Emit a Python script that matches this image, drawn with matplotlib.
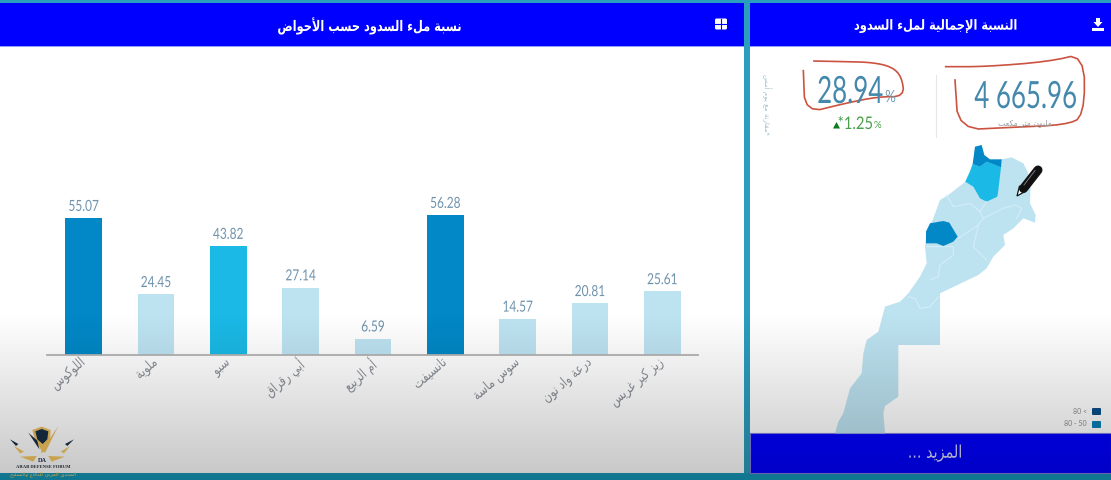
import unicodedata
import numpy as np
import matplotlib
matplotlib.use("Agg")
import matplotlib.pyplot as plt
from matplotlib.patches import Polygon, Rectangle, FancyBboxPatch
from matplotlib.patheffects import AbstractPathEffect
from matplotlib.transforms import Affine2D, ScaledTranslation

# ---------- data ----------
basins = ["اللوكوس", "ملوية", "سبو", "أبي رقراق", "أم الربيع", "تانسيفت", "سوس ماسة", "درعة واد نون", "زيز كير غريس"]
fill_rates = [55.07, 24.45, 43.82, 27.14, 6.59, 56.28, 14.57, 20.81, 25.61]
bar_colors = ["#0288c6", "#bde3f1", "#1ab9e6", "#bde3f1", "#bde3f1", "#0288c6", "#bde3f1", "#bde3f1", "#bde3f1"]
title_left = "نسبة ملء السدود حسب الأحواض"
title_right = "النسبة الإجمالية لملء السدود"
more_label = "المزيد ..."
unit_label = "مليون متر مكعب"
note_label = "*مقارنة مع يوم أمس"
forum_label = "المنتدى العربي للدفاع والتسليح"
kpi_volume = "4 665.96"
kpi_rate = "28.94"
kpi_delta = "*1.25"
legend_labels = ["80 <", "80 - 50"]
legend_colors = ["#0b4f8a", "#0a7fb5"]

# map outlines (pixels)
def z5(pts):
    return [(890 + x / 3, 140 + y / 3) for x, y in pts]
def z6(pts):
    return [(820 + x / 3, 280 + y / 3) for x, y in pts]

map_outline = z5([(226, 125), (175, 165), (150, 180), (128, 240), (110, 270), (105, 320), (110, 370), (90, 410), (62, 450)]) + \
    z6([(265, 40), (240, 65), (195, 80), (175, 155), (140, 180), (130, 220), (125, 280), (90, 325), (70, 400), (55, 425), (45, 460),
        (195, 460), (190, 400), (195, 378), (235, 350), (235, 195), (360, 195), (360, 40)]) + \
    z5([(265, 405), (290, 385), (310, 350), (345, 315), (340, 285), (370, 265), (400, 235), (435, 248), (437, 225), (420, 190),
        (422, 130), (415, 100), (400, 70), (365, 52), (335, 58), (290, 65), (248, 72)])
map_loukkos = z5([(248, 72), (255, 20), (275, 15), (283, 45), (300, 58), (335, 58), (333, 82), (290, 65), (270, 80)])
map_sebou = z5([(248, 72), (270, 80), (290, 65), (333, 82), (325, 150), (322, 170), (290, 185), (270, 175), (250, 140), (226, 125), (240, 95)])
map_tensift = z5([(108, 275), (120, 250), (160, 243), (178, 248), (203, 290), (190, 305), (160, 318), (140, 310), (108, 310)])
map_borders = [
    z5([(170, 165), (190, 200), (240, 190), (270, 215), (290, 185)]),
    z5([(270, 215), (280, 235), (340, 205), (375, 195), (395, 205), (380, 235)]),
    z5([(280, 235), (265, 255), (205, 295)]),
    z5([(265, 255), (250, 320), (290, 360)]),
    z5([(110, 320), (190, 320), (190, 345), (150, 375), (145, 410), (120, 420)]),
    z6([(265, 50), (285, 55), (300, 85), (330, 80), (355, 50)]),
]
red_left = [(175, 212), (180, 340), (300, 310), (400, 290), (478, 290), (470, 230), (440, 200), (380, 187), (300, 185), (207, 183)]
red_right = [(602, 200), (720, 200), (910, 185), (1018, 160), (1018, 350), (960, 375), (800, 382), (640, 390), (630, 240)]


# ---------- Arabic shaping (matplotlib has no shaper) ----------
LAM_ALEF = {"ا": ("\ufefb", "\ufefc"), "أ": ("\ufef7", "\ufef8"), "إ": ("\ufef9", "\ufefa"), "آ": ("\ufef5", "\ufef6")}

def form(ch, kind):
    try:
        return unicodedata.lookup(unicodedata.name(ch) + " " + kind + " FORM")
    except (KeyError, ValueError):
        return None

def is_ar(ch):
    return "\u0621" <= ch <= "\u064a"

def ar(text):
    out = []
    i = 0
    n = len(text)
    prev_joins = False
    while i < n:
        ch = text[i]
        if not is_ar(ch):
            out.append(ch)
            prev_joins = False
            i += 1
            continue
        if ch == "ل" and i + 1 < n and text[i + 1] in LAM_ALEF:
            out.append(LAM_ALEF[text[i + 1]][1 if prev_joins else 0])
            prev_joins = False
            i += 2
            continue
        nxt = text[i + 1] if i + 1 < n else ""
        next_takes = bool(nxt) and is_ar(nxt) and form(nxt, "FINAL") is not None
        can_prev = prev_joins and form(ch, "FINAL") is not None
        can_next = form(ch, "INITIAL") is not None and next_takes
        if can_prev and can_next:
            g = form(ch, "MEDIAL")
        elif can_prev:
            g = form(ch, "FINAL")
        elif can_next:
            g = form(ch, "INITIAL")
        else:
            g = form(ch, "ISOLATED") or ch
        out.append(g)
        prev_joins = form(ch, "INITIAL") is not None
        i += 1
    return "".join(out)[::-1]


class Squeeze(AbstractPathEffect):
    """Draw text narrower along its own baseline, keeping its height."""
    def __init__(self, sx, anchor=0.5):
        super().__init__()
        self.sx = sx
        self.anchor = anchor

    def draw_path(self, renderer, gc, tpath, affine, rgbFace=None):
        ext = tpath.get_extents()
        c = ext.x0 + self.anchor * ext.width
        local = Affine2D().translate(-c, 0).scale(self.sx, 1).translate(c, 0)
        renderer.draw_path(gc, tpath, local + affine, rgbFace)


def squeeze(sx, anchor=0.5):
    return [Squeeze(sx, anchor)]


def chaikin(pts, rounds=2):
    p = np.array(pts, float)
    for _ in range(rounds):
        q = 0.75 * p[:-1] + 0.25 * p[1:]
        r = 0.25 * p[:-1] + 0.75 * p[1:]
        mid = np.empty((2 * len(q), 2))
        mid[0::2] = q
        mid[1::2] = r
        p = np.vstack([p[0], mid, p[-1]])
    return p


AR = "DejaVu Sans"
NUM = "Lato"
W, H = 1111, 480
fig = plt.figure(figsize=(W / 100, H / 100), dpi=100, facecolor="white")

# pixel-space layer for the dashboard frame
bg = fig.add_axes([0, 0, 1, 1], zorder=0)
bg.set_xlim(0, W)
bg.set_ylim(H, 0)
bg.axis("off")
TEAL = "#2b9dbd"
bg.add_patch(Rectangle((0, 0), W, 3, color=TEAL, lw=0))
bg.add_patch(Rectangle((744, 0), 6, H, color=TEAL, lw=0))
bg.add_patch(Rectangle((0, 473), W, 7, color="#1798b8", lw=0))
bg.add_patch(Rectangle((0, 3), 744, 43, color="#0000ff", lw=0))
bg.add_patch(Rectangle((750, 3), W - 750, 43, color="#0000ff", lw=0))
bg.add_patch(Rectangle((0, 46), 744, 1, color="#8f9cf5", lw=0))
bg.add_patch(Rectangle((750, 46), W - 750, 1, color="#8f9cf5", lw=0))
bg.add_patch(Rectangle((750, 433), W - 750, 40, color="#0000ff", ec="#7f7fe0", lw=0.8))

bg.text(370, 26, ar(title_left), color="white", fontsize=10.5, fontweight="bold", family=AR, ha="center", va="center",
        path_effects=squeeze(0.78))
bg.text(936, 26, ar(title_right), color="white", fontsize=10, fontweight="bold", family=AR, ha="center", va="center",
        path_effects=squeeze(0.82))
bg.text(935, 453, ar(more_label), color="#dcdcff", fontsize=12.5, family=AR, ha="center", va="center",
        path_effects=squeeze(0.83))

# header icons
bg.add_patch(FancyBboxPatch((715, 18.5), 12, 11, boxstyle="round,pad=0,rounding_size=1.5", fc="white", ec="none"))
bg.plot([721, 721], [18.5, 29.5], color="#0000ff", lw=0.8)
bg.plot([715, 727], [24, 24], color="#0000ff", lw=0.8)
bg.add_patch(Polygon([(1096, 18), (1100, 18), (1100, 22), (1102.5, 22), (1098, 27), (1093.5, 22), (1096, 22)], fc="white", ec="none"))
bg.add_patch(Rectangle((1092, 27.5), 12, 3.5, fc="white", ec="none"))

# KPIs
KPI_BLUE = "#4489ac"
bg.text(1078, 97, kpi_volume, color=KPI_BLUE, fontsize=27, family=NUM, ha="right", va="center", path_effects=squeeze(0.69, 1.0))
bg.text(884, 92, kpi_rate, color=KPI_BLUE, fontsize=27, family=NUM, ha="right", va="center", path_effects=squeeze(0.69, 1.0))
bg.text(885, 97, "%", color="#6f9db5", fontsize=12, family=NUM, ha="left", va="center", path_effects=squeeze(0.8, 0))
bg.text(1025, 122.5, ar(unit_label), color="#9a9a9a", fontsize=5.6, family=AR, ha="center", va="center")
bg.plot([936, 936], [75, 137], color="#e4e8ea", lw=0.8)
bg.add_patch(Polygon([(833, 128.5), (836.5, 122), (840, 128.5)], fc="#0b7d1a", ec="none"))
bg.text(873, 124, kpi_delta, color="#4aa04a", fontsize=12.5, ha="right", va="center", family=NUM, path_effects=squeeze(0.85, 1.0))
bg.text(874, 125.5, "%", color="#4aa04a", fontsize=7, ha="left", va="center", family=NUM)
bg.text(767, 104, ar(note_label), color="#9fc0d2", fontsize=5, family=AR, rotation=-90, ha="center", va="center")

# map
MAP_LIGHT = "#bde3f1"
bg.add_patch(Polygon(map_outline, fc=MAP_LIGHT, ec="none"))
bg.add_patch(Polygon(map_sebou, fc="#1ab9e6", ec="none"))
bg.add_patch(Polygon(map_loukkos, fc="#0288c6", ec="none"))
bg.add_patch(Polygon(map_tensift, fc="#0288c6", ec="none"))
for line in map_borders:
    xs, ys = zip(*line)
    bg.plot(xs, ys, color="#d6eef7", lw=0.7)

# pencil
bg.plot([1038, 1023.5], [170, 188.5], color="#111111", lw=6.5, solid_capstyle="round")
bg.plot([1035, 1024], [170.5, 185], color="#7a7a7a", lw=0.7)
bg.add_patch(Polygon([(1017, 196), (1019.5, 186), (1026, 191)], fc="white", ec="#111111", lw=0.9))

# hand-drawn red marks
for pts in (red_left, red_right):
    s = chaikin([(745 + x / 3, y / 3) for x, y in pts])
    bg.plot(s[:, 0], s[:, 1], color="#cb5340", lw=1.2, solid_joinstyle="round")

# legend
for y, col, lab in zip((411.5, 424.5), legend_colors, legend_labels):
    bg.add_patch(FancyBboxPatch((1092, y - 3.5), 9, 7, boxstyle="round,pad=0,rounding_size=1", fc=col, ec="none"))
    bg.text(1087, y - 0.5, lab, color="#8c8c8c", fontsize=5, family=NUM, ha="right", va="center")

# ---------- bar chart ----------
ax = fig.add_axes([47.5 / W, 1 - 355 / H, 651 / W, 149.2 / H], zorder=1)
ax.patch.set_alpha(0)
x = np.arange(len(basins))
bars = ax.bar(x, fill_rates, width=0.51, color=bar_colors)
ax.set_xlim(-0.5, len(basins) - 0.5)
ax.set_ylim(0, 60)
ax.yaxis.set_visible(False)
for s in ("top", "left", "right"):
    ax.spines[s].set_visible(False)
ax.spines["bottom"].set_color("#b4b4b4")
ax.spines["bottom"].set_linewidth(1.3)
ax.set_xticks(x)
ax.set_xticklabels([ar(b) for b in basins], rotation=41, ha="right", va="top", rotation_mode="anchor",
                   family=AR, fontsize=10, color="#8d9299")
ax.tick_params(axis="x", length=0, pad=0)
shift = ScaledTranslation(-5 / 100, 0, fig.dpi_scale_trans)
for lab in ax.get_xticklabels():
    lab.set_path_effects(squeeze(0.8, 1.0))
    lab.set_transform(lab.get_transform() + shift)
ax.bar_label(bars, labels=[f"{v:.2f}" for v in fill_rates], padding=3, fontsize=11,
             color="#6f93ad", family=NUM, path_effects=squeeze(0.78))

# ---------- grey fade over the lower part of the whole screen ----------
ov = fig.add_axes([0, 0, 1, 1], zorder=5)
ov.set_xlim(0, W)
ov.set_ylim(H, 0)
ov.axis("off")
alpha = np.clip((np.arange(H) - 312) / (475 - 312), 0, 1) * 0.22
rgba = np.zeros((H, 1, 4))
rgba[:, 0, 3] = alpha
ov.imshow(rgba, extent=(0, W, H, 0), aspect="auto", interpolation="bilinear")

# ---------- forum logo ----------
lg = fig.add_axes([0, 0, 1, 1], zorder=6)
lg.set_xlim(0, W)
lg.set_ylim(H, 0)
lg.axis("off")
def z4(pts):
    return [(x / 3, 420 + y / 3) for x, y in pts]
GOLD = "#c9a24f"
DARK = "#14263a"
lg.add_patch(Polygon(z4([(97, 30), (125, 20), (152, 30), (150, 62), (128, 97), (106, 62)]), fc=GOLD, ec="none"))
lg.add_patch(Polygon(z4([(106, 34), (125, 27), (145, 34), (142, 58), (128, 72), (112, 58)]), fc=DARK, ec="none"))
lg.add_patch(Polygon(z4([(122, 97), (175, 18), (136, 97)]), fc=GOLD, ec="none"))
lg.add_patch(Polygon(z4([(85, 38), (112, 62), (118, 88)]), fc=DARK, ec="none"))
lg.add_patch(Polygon(z4([(30, 58), (55, 72), (48, 78)]), fc=DARK, ec="none"))
lg.add_patch(Polygon(z4([(222, 58), (195, 72), (202, 78)]), fc=DARK, ec="none"))
lg.add_patch(Polygon(z4([(42, 78), (72, 95), (60, 100)]), fc=GOLD, ec="none"))
lg.add_patch(Polygon(z4([(210, 78), (182, 95), (192, 100)]), fc=GOLD, ec="none"))
lg.add_patch(Polygon(z4([(60, 110), (110, 108), (100, 125)]), fc=GOLD, ec="none"))
lg.add_patch(Polygon(z4([(195, 110), (145, 108), (155, 125)]), fc=GOLD, ec="none"))
lg.text(42, 461, "DA", color=DARK, fontsize=4.5, fontweight="bold", family="Liberation Serif", ha="center", va="center")
lg.text(43, 467.5, "ARAB DEFENSE FORUM", color="#1d2530", fontsize=3.3, fontweight="bold",
        family="Liberation Serif", ha="center", va="center")
lg.text(43, 474.5, ar(forum_label), color="#c9a64f", fontsize=3.7, family=AR, ha="center", va="center")

fig.savefig("out.png", dpi=100)
